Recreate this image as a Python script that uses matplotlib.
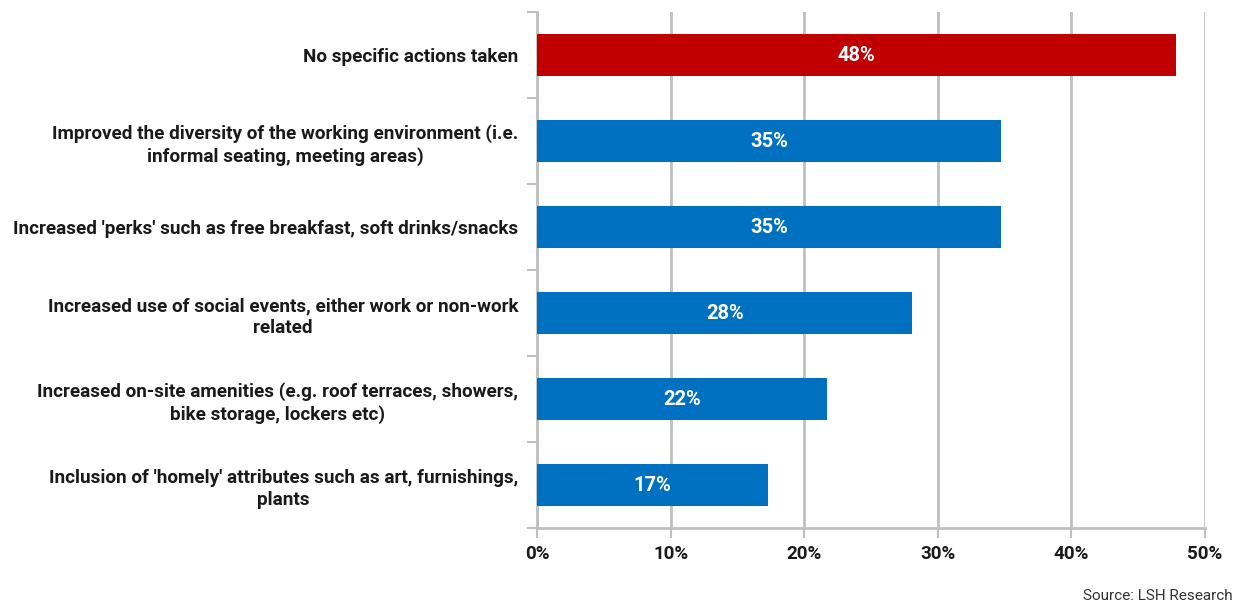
import matplotlib
matplotlib.use("Agg")
import matplotlib.pyplot as plt
from matplotlib.ticker import FixedLocator, PercentFormatter

plt.rcParams['font.family'] = ['Roboto', 'DejaVu Sans']

categories = [
    "No specific actions taken",
    "Improved the diversity of the working environment (i.e.\ninformal seating, meeting areas)",
    "Increased 'perks' such as free breakfast, soft drinks/snacks",
    "Increased use of social events, either work or non-work\nrelated",
    "Increased on-site amenities (e.g. roof terraces, showers,\nbike storage, lockers etc)",
    "Inclusion of 'homely' attributes such as art, furnishings,\nplants",
]
values = [47.8, 34.7, 34.7, 28.1, 21.7, 17.3]
bar_colors = ["#C00000", "#0070C0", "#0070C0", "#0070C0", "#0070C0", "#0070C0"]
x_ticks = [0, 10, 20, 30, 40, 50]
source = "Source: LSH Research"

fig = plt.figure(figsize=(12.36, 6.10), dpi=100)
ax = fig.add_axes([0.4345, 0.1344, 0.5405, 0.8459])

y = list(range(len(categories)))
bars = ax.barh(y, values, height=0.49, color=bar_colors, zorder=3)
ax.set_ylim(len(categories) - 0.5, -0.5)
ax.set_xlim(0, 50)

for rect, v in zip(bars, values):
    ax.text(rect.get_x() + rect.get_width() / 2, rect.get_y() + rect.get_height() / 2,
            f"{v:.0f}%", ha="center", va="center", color="white",
            fontsize=14.5, fontweight="bold", zorder=4)

ax.set_yticks(y)
ax.set_yticklabels(categories, fontsize=13.6, fontweight="bold", color="#1a1a1a",
                   multialignment="center", linespacing=1.25)
ax.yaxis.set_minor_locator(FixedLocator([i - 0.5 for i in range(len(categories) + 1)]))
ax.tick_params(axis="y", which="major", length=0, pad=13.5)
ax.tick_params(axis="y", which="minor", length=7, width=1.5, color="#BFBFBF")

ax.set_xticks(x_ticks)
ax.xaxis.set_major_formatter(PercentFormatter(decimals=0))
ax.tick_params(axis="x", which="major", length=7, width=1.5, color="#BFBFBF",
               labelsize=13.5, labelcolor="#1a1a1a", pad=5)
for lbl in ax.get_xticklabels():
    lbl.set_fontweight("bold")

ax.grid(axis="x", color="#BFBFBF", linewidth=2, zorder=0)
ax.set_axisbelow(True)
for side in ["top", "right"]:
    ax.spines[side].set_visible(False)
for side in ["left", "bottom"]:
    ax.spines[side].set_color("#BFBFBF")
    ax.spines[side].set_linewidth(2)

fig.text(0.9975, 0.012, source, ha="right", va="bottom", fontsize=11, color="#333333")

fig.savefig("out.png", dpi=100)
